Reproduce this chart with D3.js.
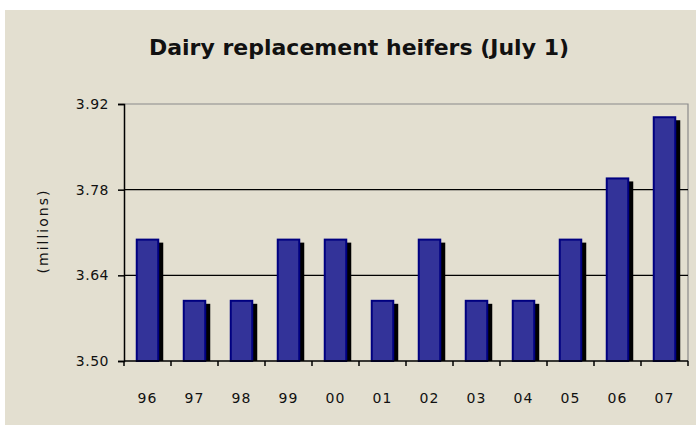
<!DOCTYPE html>
<html>
<head>
<meta charset="utf-8">
<script src="https://cdn.jsdelivr.net/npm/d3@7"></script>
<style>
  body { margin: 0; background: #fff; }
  svg { display: block; }
  text { font-family: "DejaVu Sans", sans-serif; fill: #111; }
</style>
</head>
<body>
<svg id="chart" width="696" height="425"></svg>
<script>
'use strict';
// Data
const years = ['96', '97', '98', '99', '00', '01', '02', '03', '04', '05', '06', '07'];
const heifers = [3.70, 3.60, 3.60, 3.70, 3.70, 3.60, 3.70, 3.60, 3.60, 3.70, 3.80, 3.90];
const yTicks = [3.50, 3.64, 3.78, 3.92];

const svg = d3.select('#chart');
const W = 696, H = 425;
const plot = {left: 124, top: 104, right: 688, bottom: 361};

// panel background
svg.append('rect').attr('x', 5).attr('y', 10).attr('width', W - 5).attr('height', H - 10)
  .attr('fill', '#e3dfd0');

svg.append('text')
  .attr('x', 359).attr('y', 55)
  .attr('text-anchor', 'middle')
  .style('font-size', '22px').style('font-weight', 'bold')
  .text('Dairy replacement heifers (July 1)');

const x = d3.scaleBand().domain(years).range([plot.left, plot.right]).paddingInner(0.5).paddingOuter(0.25);
const y = d3.scaleLinear().domain([3.50, 3.92]).range([plot.bottom, plot.top]);

// frame (top/right grey)
svg.append('path')
  .attr('d', `M${plot.left},${plot.top}H${plot.right}V${plot.bottom}`)
  .attr('fill', 'none').attr('stroke', '#8a8a8a').attr('stroke-width', 1.2);

// gridlines
svg.append('g').selectAll('line').data(yTicks.slice(1, -1))
  .enter().append('line')
  .attr('x1', plot.left).attr('x2', plot.right)
  .attr('y1', d => y(d)).attr('y2', d => y(d))
  .attr('stroke', '#000').attr('stroke-width', 1.2);

// bars with drop shadow
const bars = svg.append('g');
bars.selectAll('rect.shadow').data(heifers)
  .enter().append('rect').attr('class', 'shadow')
  .attr('x', (d, i) => x(years[i]) + 4)
  .attr('y', d => y(d) + 4)
  .attr('width', x.bandwidth())
  .attr('height', d => plot.bottom - y(d) - 4)
  .attr('fill', '#000');
bars.selectAll('rect.bar').data(heifers)
  .enter().append('rect').attr('class', 'bar')
  .attr('x', (d, i) => x(years[i]) + 1)
  .attr('y', d => y(d) + 1)
  .attr('width', x.bandwidth() - 2)
  .attr('height', d => plot.bottom - y(d) - 1)
  .attr('fill', '#333399').attr('stroke', '#000080').attr('stroke-width', 2);

// y axis
const yAxis = svg.append('g').attr('transform', `translate(${plot.left},0)`)
  .call(d3.axisLeft(y).tickValues(yTicks).tickFormat(d3.format('.2f')).tickSize(6).tickPadding(9));
yAxis.select('.domain').attr('stroke', '#000').attr('stroke-width', 1.5);
yAxis.selectAll('.tick line').attr('stroke', '#000').attr('stroke-width', 1.5);
yAxis.selectAll('.tick text').style('font-size', '14px').style('letter-spacing', '0.5px')
  .style('font-family', '"DejaVu Sans", sans-serif').attr('fill', '#222');

// x axis: ticks at band boundaries
const xAxis = svg.append('g').attr('transform', `translate(0,${plot.bottom})`);
xAxis.append('line').attr('x1', plot.left).attr('x2', plot.right)
  .attr('stroke', '#000').attr('stroke-width', 1.5);
xAxis.selectAll('line.tick').data(d3.range(years.length + 1))
  .enter().append('line').attr('class', 'tick')
  .attr('x1', i => plot.left + i * (plot.right - plot.left) / years.length)
  .attr('x2', i => plot.left + i * (plot.right - plot.left) / years.length)
  .attr('y1', 0).attr('y2', 5)
  .attr('stroke', '#000').attr('stroke-width', 1.5);
xAxis.selectAll('text').data(years)
  .enter().append('text')
  .attr('x', d => x(d) + x.bandwidth() / 2)
  .attr('y', 42)
  .attr('text-anchor', 'middle')
  .style('font-size', '14px').style('letter-spacing', '1px').attr('fill', '#222')
  .text(d => d);

// y title
svg.append('text')
  .attr('transform', 'translate(48,231) rotate(-90)')
  .attr('text-anchor', 'middle')
  .style('font-size', '14px').style('letter-spacing', '2px')
  .text('(millions)');
</script>
</body>
</html>
